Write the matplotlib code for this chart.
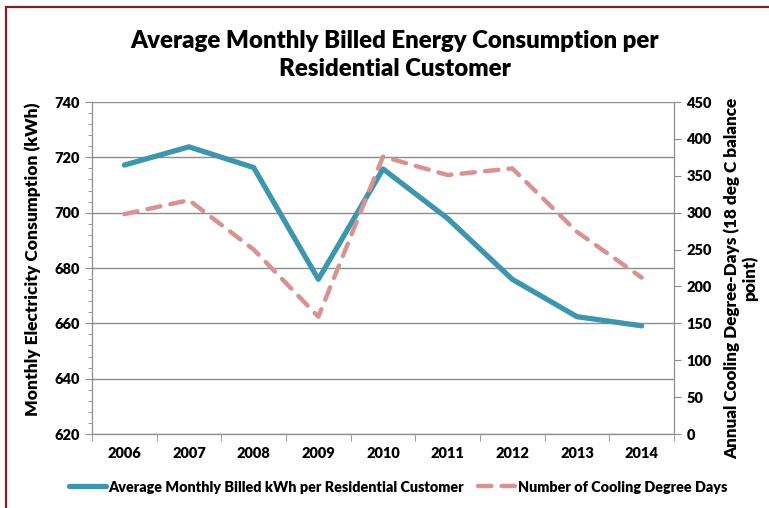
import numpy as np
import matplotlib
matplotlib.use("Agg")
from matplotlib import pyplot as plt
from matplotlib.patches import Rectangle
from matplotlib.lines import Line2D

plt.rcParams['font.family'] = ['Lato', 'DejaVu Sans']

years = ["2006", "2007", "2008", "2009", "2010", "2011", "2012", "2013", "2014"]
kwh = [717.2, 723.8, 716.3, 675.9, 715.8, 697.9, 675.9, 662.4, 659.1]
cdd = [298, 317, 250, 159, 376, 351, 360, 274, 212]

blue = "#3E96AE"
pink = "#D69391"
grid_col = "#8C8C8C"
wt = "heavy"

fig = plt.figure(figsize=(7.69, 5.08), dpi=100)
# dark red chart border (cropped on right and bottom)
fig.patches.append(Rectangle((6 / 769, -0.1), 1.2, (508 - 7) / 508 + 0.1,
                             transform=fig.transFigure, fill=False,
                             edgecolor="#7F1F2A", linewidth=1.6))

ax = fig.add_axes([92 / 769, 74 / 508, 582 / 769, 332 / 508])
ax2 = ax.twinx()

x = np.arange(len(years))
ax.plot(x, kwh, color=blue, linewidth=3.8, solid_capstyle="round",
        solid_joinstyle="round", zorder=3)
ax2.plot(x, cdd, color=pink, linewidth=3.2, linestyle=(0, (3, 2.3)),
         dash_capstyle="round", zorder=3)

ax.set_xlim(-0.5, len(years) - 0.5)
ax.set_ylim(620, 740)
ax2.set_ylim(0, 450)

ax.set_yticks(np.arange(620, 741, 20))
ax.set_yticks(np.arange(620, 741, 4), minor=True)
ax2.set_yticks(np.arange(0, 451, 50))
ax.set_xticks(x)
ax.set_xticks(np.arange(-0.5, len(years), 1), minor=True)
ax.set_xticklabels(years)

ax.grid(axis="y", which="major", color=grid_col, linewidth=1.0)
ax.set_axisbelow(True)

for a in (ax, ax2):
    for s in a.spines.values():
        s.set_color(grid_col)
    a.spines["top"].set_visible(False)
ax.tick_params(axis="x", which="major", length=0, pad=9)
ax.tick_params(axis="x", which="minor", length=5, color=grid_col)
ax.tick_params(axis="y", which="major", length=5, color=grid_col, pad=4)
ax.tick_params(axis="y", which="minor", length=3, color=grid_col)
ax2.tick_params(axis="y", which="major", length=5, color=grid_col, pad=4)

for lab in ax.get_xticklabels() + ax.get_yticklabels() + ax2.get_yticklabels():
    lab.set_fontweight(wt)
    lab.set_fontsize(10.5)

ax.set_ylabel("Monthly Electricity Consumption (kWh)", fontsize=12.5,
              fontweight=wt)
ax.yaxis.set_label_coords(-0.088, 0.527)
ax2.set_ylabel("Annual Cooling Degree-Days (18 deg C balance\npoint)",
               fontsize=12.3, fontweight=wt, linespacing=1.15)
ax2.yaxis.set_label_coords(1.085, 0.47)

fig.text(395 / 769, 1 - 55 / 508,
         "Average Monthly Billed Energy Consumption per\nResidential Customer",
         ha="center", va="center", fontsize=17.3, fontweight=wt,
         linespacing=1.3)

handles = [Line2D([], [], color=blue, linewidth=3.8, solid_capstyle="round"),
           Line2D([], [], color=pink, linewidth=3.2, linestyle=(0, (3, 2.3)),
                  dash_capstyle="round")]
fig.legend(handles, ["Average Monthly Billed kWh per Residential Customer",
                     "Number of Cooling Degree Days"],
           loc="center", bbox_to_anchor=(398 / 769, 1 - 487 / 508), ncol=2,
           frameon=False, handlelength=2.6, handletextpad=0.15,
           columnspacing=1.0, prop={"weight": wt, "size": 10.4})

fig.savefig("out.png", dpi=100)
